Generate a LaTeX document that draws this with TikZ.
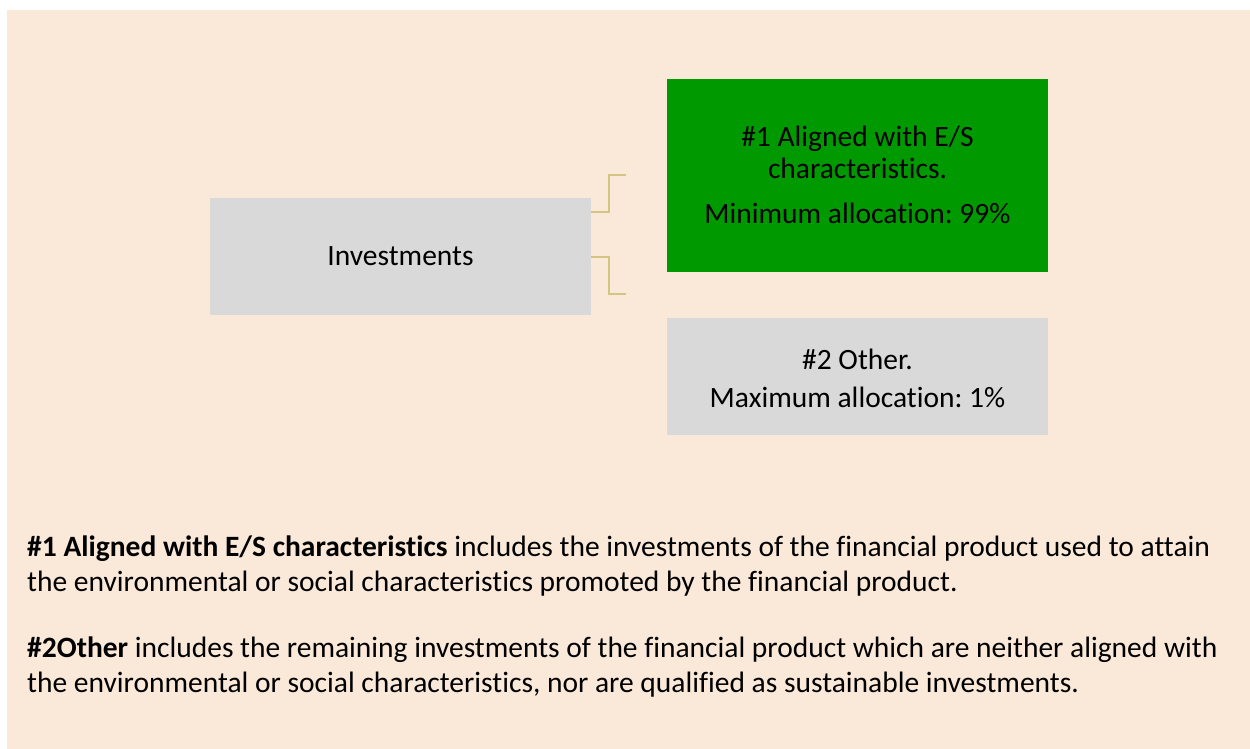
\documentclass[tikz,border=0pt]{standalone}
\usepackage{fontspec}
\setmainfont{Carlito}[Ligatures=NoCommon]
\frenchspacing
\definecolor{peach}{RGB}{250,232,216}
\definecolor{boxgray}{RGB}{217,217,217}
\definecolor{boxgreen}{RGB}{0,153,0}
\definecolor{linkcol}{RGB}{210,198,128}
\tikzset{
  box/.style={draw=none, inner sep=0pt, minimum width=381pt},
  boxtext/.style={align=center, inner sep=0pt, anchor=base, font=\fontsize{29.5}{32}\selectfont},
  link/.style={draw=linkcol, line width=2.2pt},
  para/.style={anchor=base west, inner sep=0pt, align=left, font=\fontsize{29.5}{35}\selectfont}
}
\begin{document}
\begin{tikzpicture}[x=1pt,y=-1pt]
\useasboundingbox (0,0) rectangle (1250,749);
\fill[white] (0,0) rectangle (1250,749);
\fill[peach] (7,10) rectangle (1250,749);
\node[box, fill=boxgray, minimum height=117pt] (inv) at (400.5,256.5) {};
\node[boxtext] (invtext) at (400.5,265.5) {Investments};
\node[box, fill=boxgreen, minimum height=193pt] (al) at (857.5,175.5) {};
\node[boxtext] (altext) at (857.5,223.5) {\#1 Aligned with E/S\\characteristics.\\[13pt]Minimum allocation: 99\%};
\node[box, fill=boxgray, minimum height=117pt] (oth) at (857.5,376.5) {};
\node[boxtext] (othtext) at (857.5,407.5) {\#2 Other.\\[6pt]Maximum allocation: 1\%};
\coordinate (u0) at (inv.east |- 0,212);
\coordinate (u1) at (609,212);
\coordinate (u2) at (609,175);
\coordinate (u3) at (626,175);
\coordinate (d0) at (inv.east |- 0,257);
\coordinate (d1) at (609,257);
\coordinate (d2) at (609,294);
\coordinate (d3) at (626,294);
\draw[link] (u0) -- (u1) -- (u2) -- (u3);
\draw[link] (d0) -- (d1) -- (d2) -- (d3);
\node[para] (p1) at (27,591.5) {\textbf{\#1 Aligned with E/S characteristics} includes the investments of the financial product used to attain\\the environmental or social characteristics promoted by the financial product.};
\node[para] (p2) at (27,692.5) {\textbf{\#2Other} includes the remaining investments of the financial product which are neither aligned with\\the environmental or social characteristics, nor are qualified as sustainable investments.};
\end{tikzpicture}
\end{document}
